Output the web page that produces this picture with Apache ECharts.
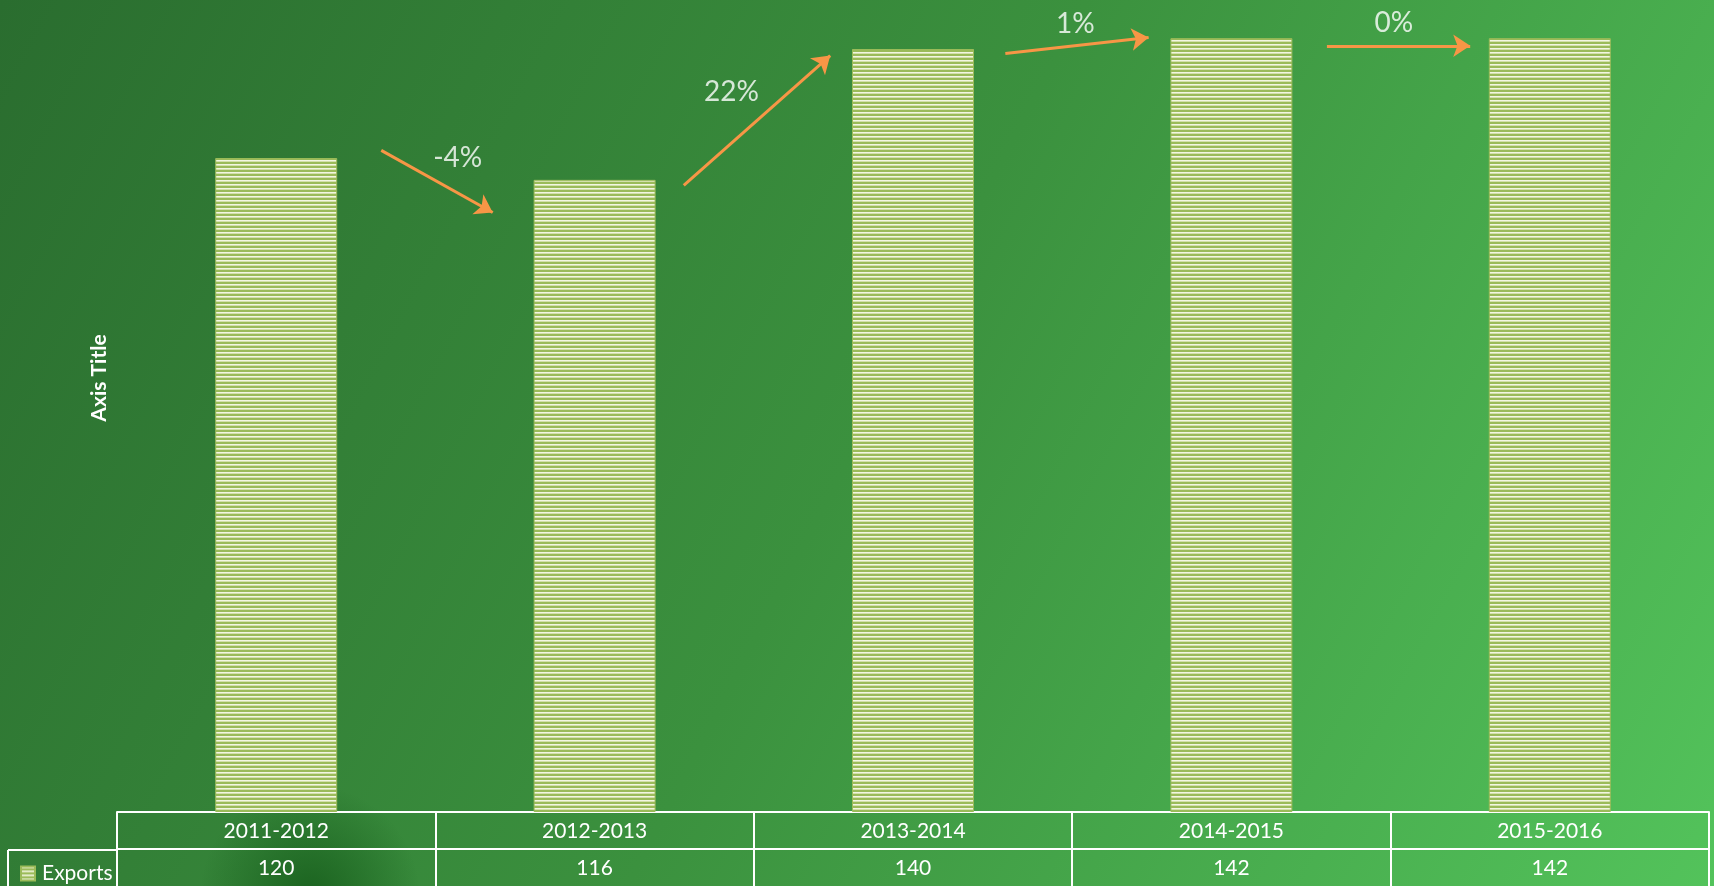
<!DOCTYPE html>
<html lang="en">
<head>
    <meta charset="UTF-8">
    <title>Exports</title>
    <script src="https://cdn.jsdelivr.net/npm/echarts@6/dist/echarts.min.js"></script>
    <style>
        html, body { margin: 0; padding: 0; }
        #container { width: 1714px; height: 886px; }
    </style>
</head>
<body>
<div id="container"></div>
<script>
    // data
    const years = ['2011-2012', '2012-2013', '2013-2014', '2014-2015', '2015-2016'];
    const exports = [120, 116, 140, 142, 142];
    const changeLabels = ['-4%', '22%', '1%', '0%'];
    // arrow start / end, x in category index units, y in axis value
    const arrowFrom = [[0.33, 121.4], [1.28, 115.0], [2.29, 139.2], [3.30, 140.6]];
    const arrowTo = [[0.68, 110.0], [1.74, 138.8], [2.74, 142.1], [3.75, 140.6]];
    const labelAt = [[0.57, 120.0], [1.43, 132.1], [2.51, 144.6], [3.51, 144.7]];

    // striped fill like the excel pattern
    const pat = document.createElement('canvas');
    pat.width = 4; pat.height = 4;
    const pctx = pat.getContext('2d');
    pctx.fillStyle = '#9bbb59';
    pctx.fillRect(0, 0, 4, 4);
    pctx.fillStyle = '#f2f6e2';
    pctx.fillRect(0, 0, 4, 1);
    pctx.fillStyle = '#d3e0ab';
    pctx.fillRect(0, 1, 4, 1);
    const stripes = {image: pat, repeat: 'repeat'};

    const font = 'Lato, "Open Sans", sans-serif';
    const orange = '#f79646';

    var dom = document.getElementById('container');
    var myChart = echarts.init(dom, null, {renderer: 'canvas'});

    var option = {
        backgroundColor: new echarts.graphic.LinearGradient(0, 0, 1, 1, [
            {offset: 0, color: '#2a6d2f'},
            {offset: 0.5, color: '#3b913e'},
            {offset: 1, color: '#53c35b'}
        ]),
        animation: false,
        grid: {left: 117, right: 5, top: 0, bottom: 74},
        legend: {
            left: 15, top: 858,
            itemWidth: 14, itemHeight: 14, itemGap: 6,
            icon: 'rect',
            data: ['Exports'],
            textStyle: {color: '#fff', fontSize: 21, fontFamily: font, padding: [0, 0, 0, 2]}
        },
        xAxis: [
            {
                type: 'category',
                data: years,
                axisLine: {lineStyle: {color: '#fff', width: 2}},
                axisTick: {show: true, interval: 0, length: 74, lineStyle: {color: '#fff', width: 2}},
                axisLabel: {color: '#fff', fontSize: 21, fontFamily: font, margin: 9, interval: 0},
                splitLine: {show: false}
            },
            {type: 'value', min: -0.5, max: 4.5, show: false},
            {
                type: 'category',
                data: years,
                position: 'bottom',
                offset: 37,
                axisLine: {lineStyle: {color: '#fff', width: 2}},
                axisTick: {show: false},
                axisLabel: {show: false}
            }
        ],
        yAxis: {
            type: 'value', min: 0, max: 149,
            axisLine: {show: false}, axisTick: {show: false},
            axisLabel: {show: false}, splitLine: {show: false}
        },
        graphic: [
            {
                type: 'circle', shape: {cx: 310, cy: 895, r: 110}, silent: true, z: -10,
                style: {
                    fill: new echarts.graphic.RadialGradient(0.5, 0.5, 0.5, [
                        {offset: 0, color: 'rgba(20,90,25,0.8)'},
                        {offset: 0.5, color: 'rgba(20,90,25,0.4)'},
                        {offset: 1, color: 'rgba(20,90,25,0)'}
                    ])
                }
            },
            {
                type: 'text', x: 99, y: 378, rotation: Math.PI / 2,
                style: {
                    text: 'Axis Title', fill: '#fff', font: 'bold 21px ' + font,
                    textAlign: 'center', textVerticalAlign: 'middle'
                }
            },
            {type: 'line', shape: {x1: 8, y1: 850, x2: 117, y2: 850}, style: {stroke: '#fff', lineWidth: 2}},
            {type: 'line', shape: {x1: 8, y1: 850, x2: 8, y2: 886}, style: {stroke: '#fff', lineWidth: 2}}
        ],
        series: [
            {
                name: 'Exports',
                type: 'bar',
                data: exports,
                barWidth: 122,
                itemStyle: {color: stripes, borderColor: '#9bbb59', borderWidth: 1},
                label: {
                    show: true, position: 'bottom', distance: 46,
                    color: '#fff', fontSize: 21, fontFamily: font
                }
            },
            {
                type: 'lines',
                coordinateSystem: 'cartesian2d',
                xAxisIndex: 1, yAxisIndex: 0,
                symbol: ['none', 'arrow'],
                symbolSize: 17,
                lineStyle: {color: orange, width: 3, opacity: 1, curveness: 0},
                data: arrowFrom.map((p, i) => ({coords: [p, arrowTo[i]]})),
                z: 5
            },
            {
                type: 'scatter',
                xAxisIndex: 1, yAxisIndex: 0,
                symbolSize: 0,
                data: labelAt.map((p, i) => ({value: p, name: changeLabels[i]})),
                label: {
                    show: true, position: 'inside', formatter: '{b}',
                    color: '#fff', fontSize: 28, fontFamily: font
                },
                z: 6
            }
        ]
    };

    myChart.setOption(option);
    window.addEventListener('resize', myChart.resize);
</script>
</body>
</html>
